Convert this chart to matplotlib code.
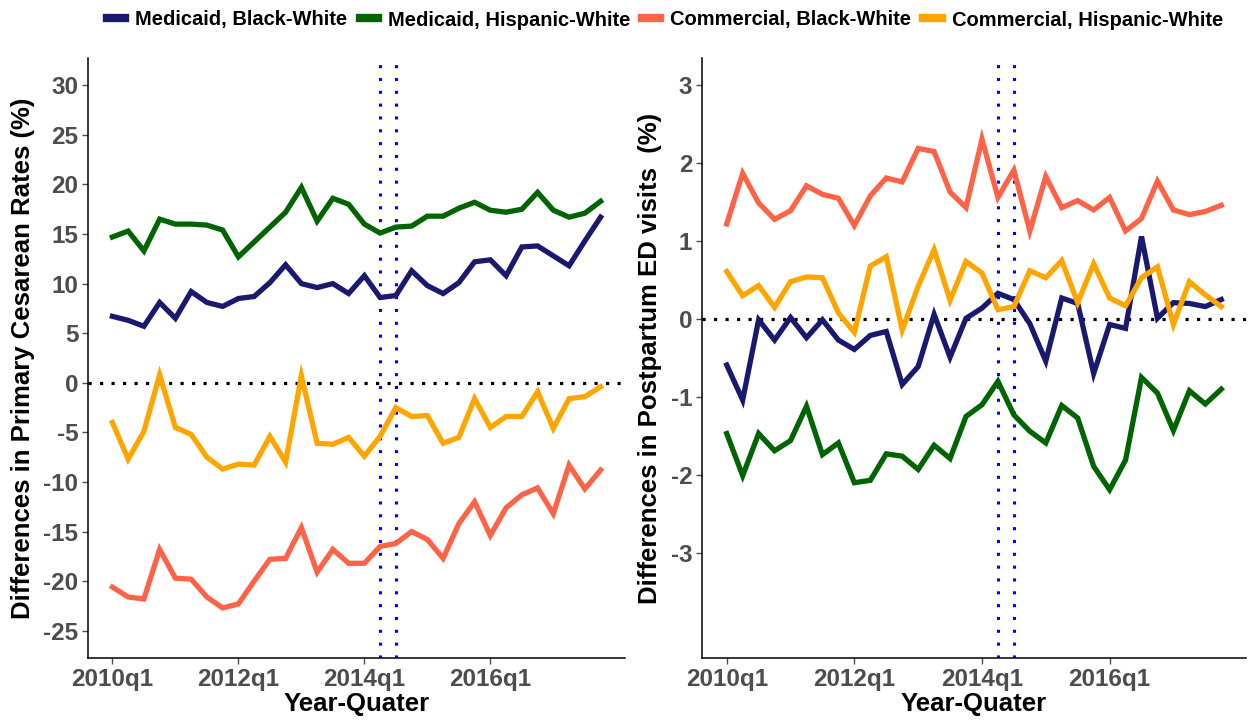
import numpy as np
import matplotlib
matplotlib.use("Agg")
import matplotlib.pyplot as plt
from matplotlib.lines import Line2D

plt.rcParams['font.family'] = ['Liberation Sans', 'DejaVu Sans']

# 2010q1 .. 2017q4
quarters = [f"{y}q{q}" for y in range(2010, 2018) for q in range(1, 5)]
tick_labels = ["2010q1", "2012q1", "2014q1", "2016q1"]
policy_quarters = ["2014q2", "2014q3"]

series_names = ["Medicaid, Black-White", "Medicaid, Hispanic-White",
                "Commercial, Black-White", "Commercial, Hispanic-White"]
colors = ["#191970", "#006400", "#FF6347", "#FFA500"]

# primary cesarean rate differences (%)
ces_med_bw = [6.7, 6.3, 5.7, 8.1, 6.5, 9.2, 8.1, 7.7, 8.5, 8.7, 10.1, 11.9,
              10.0, 9.6, 10.0, 9.0, 10.8, 8.6, 8.8, 11.3, 9.8, 9.0, 10.1, 12.2,
              12.4, 10.8, 13.7, 13.8, 12.8, 11.8, 14.3, 16.7]
ces_med_hw = [14.7, 15.3, 13.3, 16.5, 16.0, 16.0, 15.9, 15.4, 12.7, 14.2, 15.7, 17.2,
              19.7, 16.3, 18.6, 18.0, 16.0, 15.1, 15.7, 15.8, 16.8, 16.8, 17.6, 18.2,
              17.4, 17.2, 17.5, 19.2, 17.4, 16.7, 17.1, 18.3]
ces_com_bw = [-20.6, -21.6, -21.8, -16.8, -19.7, -19.8, -21.6, -22.7, -22.3, -20.0, -17.8, -17.7,
              -14.6, -19.1, -16.8, -18.2, -18.2, -16.5, -16.2, -15.0, -15.8, -17.7, -14.2, -12.0,
              -15.4, -12.6, -11.3, -10.6, -13.2, -8.3, -10.7, -8.8]
ces_com_hw = [-4.0, -7.7, -4.9, 0.8, -4.5, -5.2, -7.5, -8.7, -8.2, -8.3, -5.4, -8.0,
              0.7, -6.1, -6.2, -5.5, -7.4, -5.4, -2.5, -3.4, -3.3, -6.1, -5.5, -1.6,
              -4.5, -3.4, -3.4, -0.9, -4.6, -1.6, -1.4, -0.4]

# postpartum ED visit differences (%)
ed_med_bw = [-0.59, -1.04, -0.01, -0.27, 0.02, -0.24, -0.01, -0.27, -0.39, -0.21, -0.16, -0.84,
             -0.61, 0.06, -0.49, 0.01, 0.14, 0.33, 0.25, -0.06, -0.54, 0.27, 0.20, -0.70,
             -0.07, -0.12, 1.06, 0.01, 0.21, 0.20, 0.16, 0.25]
ed_med_hw = [-1.47, -2.01, -1.47, -1.69, -1.56, -1.12, -1.74, -1.59, -2.10, -2.07, -1.73, -1.76,
             -1.93, -1.62, -1.79, -1.25, -1.10, -0.80, -1.23, -1.44, -1.59, -1.11, -1.27, -1.89,
             -2.19, -1.81, -0.75, -0.95, -1.43, -0.92, -1.09, -0.90]
ed_com_bw = [1.22, 1.87, 1.49, 1.28, 1.39, 1.71, 1.60, 1.55, 1.20, 1.58, 1.81, 1.76,
             2.19, 2.15, 1.63, 1.43, 2.31, 1.56, 1.91, 1.13, 1.83, 1.43, 1.52, 1.40,
             1.56, 1.13, 1.29, 1.77, 1.40, 1.34, 1.38, 1.46]
ed_com_hw = [0.61, 0.30, 0.43, 0.15, 0.48, 0.54, 0.53, 0.08, -0.17, 0.68, 0.80, -0.14,
             0.42, 0.89, 0.24, 0.74, 0.59, 0.12, 0.16, 0.62, 0.53, 0.75, 0.21, 0.71,
             0.27, 0.17, 0.53, 0.67, -0.07, 0.48, 0.31, 0.16]

x = np.arange(len(quarters))
tick_pos = [quarters.index(t) for t in tick_labels]
vline_pos = [quarters.index(q) for q in policy_quarters]

fig = plt.figure(figsize=(12.5, 7.22), dpi=100)
ax1 = fig.add_axes([88 / 1250, 64 / 722, 537 / 1250, 600 / 722])
ax2 = fig.add_axes([702 / 1250, 64 / 722, 544 / 1250, 600 / 722])

tick_color = "#4D4D4D"


def style_axis(ax, ylim, yticks, ylabel):
    for s in ["top", "right"]:
        ax.spines[s].set_visible(False)
    for s in ["left", "bottom"]:
        ax.spines[s].set_linewidth(1.1)
    ax.set_xlim(-1.55, len(quarters) - 1 + 1.55)
    ax.set_ylim(*ylim)
    ax.set_xticks(tick_pos)
    ax.set_xticklabels(tick_labels)
    ax.set_yticks(yticks)
    ax.set_yticklabels([str(t) for t in yticks])
    ax.tick_params(axis="both", labelsize=17.5, colors=tick_color, length=4, width=1,
                   pad=3)
    for lab in ax.get_xticklabels() + ax.get_yticklabels():
        lab.set_fontweight("bold")
    ax.set_xlabel("Year-Quater", fontsize=18.5, fontweight="bold", labelpad=1)
    ax.set_ylabel(ylabel, fontsize=18.5, fontweight="bold", labelpad=6)


def draw_panel(ax, data, ylim, yticks, ylabel):
    ax.axhline(0, color="black", lw=2.3, linestyle=(0, (1, 2.6)), zorder=1)
    for v in vline_pos:
        ax.axvline(v, color="blue", lw=2.2, linestyle=(0, (1, 3.2)), zorder=1)
    for ys, c in zip(data, colors):
        ax.plot(x, ys, color=c, lw=3.8, solid_joinstyle="miter", zorder=2)
    style_axis(ax, ylim, yticks, ylabel)


draw_panel(ax1, [ces_med_bw, ces_med_hw, ces_com_bw, ces_com_hw],
           (-27.75, 32.75), list(range(-25, 31, 5)),
           "Differences in Primary Cesarean Rates (%)")
draw_panel(ax2, [ed_med_bw, ed_med_hw, ed_com_bw, ed_com_hw],
           (-4.35, 3.35), list(range(-3, 4)),
           "Differences in Postpartum ED visits  (%)")

handles = [Line2D([0], [0], color=c, lw=6) for c in colors]
fig.legend(handles, series_names, loc="center", bbox_to_anchor=(665 / 1250, 1 - 20 / 722),
           ncol=4, frameon=False, prop={"weight": "bold", "size": 14.5},
           handlelength=0.9, handletextpad=0.5, columnspacing=0.6)

fig.savefig("out.png", dpi=100)
